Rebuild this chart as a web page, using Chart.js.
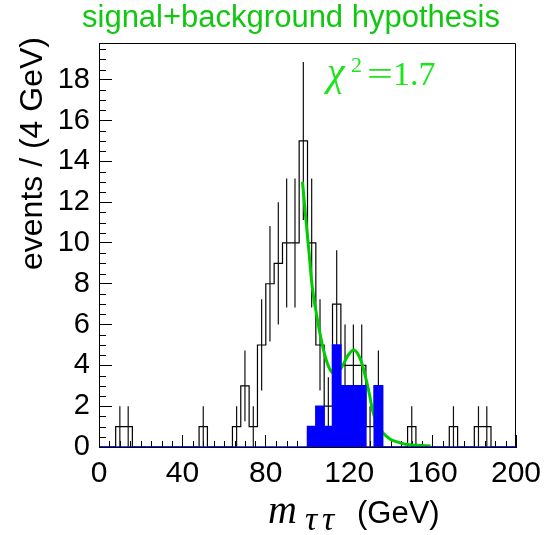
<!DOCTYPE html>
<html>
<head>
<meta charset="utf-8">
<script src="https://cdn.jsdelivr.net/npm/chart.js@4.4.1/dist/chart.umd.min.js"></script>
<style>
  html, body { margin: 0; padding: 0; background: #fff; }
  #wrap { width: 544px; height: 535px; position: relative; }
</style>
</head>
<body>
<div id="wrap"><canvas id="massChart"></canvas></div>
<script>
// histogram in 4 GeV bins, 0 - 200 GeV
const binWidth = 4;
const eventCounts = [
  0, 0, 1, 1, 0, 0, 0, 0, 0, 0,
  0, 0, 1, 0, 0, 0, 1, 3, 1, 5,
  8, 9, 10, 10, 15, 10, 5, 2, 7, 4,
  4, 4, 1, 3, 0, 0, 0, 1, 0, 0,
  0, 0, 1, 0, 0, 1, 1, 0, 0, 0
];
const signalCounts = [
  0, 0, 0, 0, 0, 0, 0, 0, 0, 0,
  0, 0, 0, 0, 0, 0, 0, 0, 0, 0,
  0, 0, 0, 0, 0, 1, 2, 1, 5, 3,
  3, 3, 0, 3, 0, 0, 0, 0, 0, 0,
  0, 0, 0, 0, 0, 0, 0, 0, 0, 0
];
// signal+background fit curve
const fitMass  = [97.6, 99, 100.5, 102.1, 104.5, 107.7, 110.9, 113.5, 116.5, 119.5, 122.1, 124.5, 126.1, 129.3, 131.4, 133.5, 136.5, 139.7, 142.9, 147, 152.5, 159];
const fitValue = [13.0, 11.4, 9.8, 8.0, 6.4, 4.75, 3.77, 3.6, 3.93, 4.5, 4.75, 4.5, 4.09, 2.78, 1.72, 1.1, 0.66, 0.38, 0.25, 0.13, 0.08, 0.05];

const xTickValues = [0, 40, 80, 120, 160, 200];
const yTickValues = [0, 2, 4, 6, 8, 10, 12, 14, 16, 18];

const xMinor = [];
for (let v = 5; v < 200; v += 5) if (v % 40 !== 0) xMinor.push(v);
const yMinor = [];
for (let v = 0.5; v < 19.8; v += 0.5) if (v % 2 !== 0) yMinor.push(v);

function stepPoints(counts) {
  const pts = counts.map((c, i) => ({ x: i * binWidth, y: c }));
  pts.push({ x: counts.length * binWidth, y: 0 });
  return pts;
}

function errorBarPoints(counts) {
  const pts = [];
  counts.forEach((c, i) => {
    if (c <= 0) return;
    const x = (i + 0.5) * binWidth;
    const err = Math.sqrt(c);
    pts.push({ x: x, y: c - err }, { x: x, y: c + err }, { x: x, y: null });
  });
  return pts;
}

const SANS = '"Liberation Sans", Arial, sans-serif';
const SERIF = '"Liberation Serif", "Times New Roman", serif';

const decorations = {
  id: 'decorations',
  beforeDatasetsDraw(chart) {
    const { ctx, chartArea: a, scales: { x, y } } = chart;
    ctx.save();
    ctx.strokeStyle = '#000';
    ctx.lineWidth = 1;
    ctx.beginPath();
    xMinor.forEach(v => {
      const px = Math.round(x.getPixelForValue(v)) + 0.5;
      ctx.moveTo(px, a.bottom);
      ctx.lineTo(px, a.bottom - 6);
    });
    yMinor.forEach(v => {
      const py = Math.round(y.getPixelForValue(v)) + 0.5;
      ctx.moveTo(a.left, py);
      ctx.lineTo(a.left + 7, py);
    });
    ctx.moveTo(a.left, a.top + 0.5);
    ctx.lineTo(a.right - 0.5, a.top + 0.5);
    ctx.lineTo(a.right - 0.5, a.bottom);
    ctx.stroke();
    ctx.restore();
  },
  afterDraw(chart) {
    const { ctx } = chart;
    ctx.save();
    ctx.textAlign = 'left';
    ctx.textBaseline = 'alphabetic';

    ctx.fillStyle = '#11c811';
    ctx.font = '31px ' + SANS;
    ctx.fillText('signal+background hypothesis', 82, 27);

    ctx.fillStyle = '#000';
    ctx.font = '32px ' + SANS;
    ctx.save();
    ctx.translate(42, 270);
    ctx.rotate(-Math.PI / 2);
    ctx.fillText('events / (4 GeV)', 0, 0);
    ctx.restore();

    ctx.font = 'italic 40px ' + SERIF;
    ctx.fillText('m', 268, 523);
    ctx.font = 'italic 34px ' + SERIF;
    ctx.fillText('\u03C4', 305, 530);
    ctx.fillText('\u03C4', 322, 530);
    ctx.font = '31px ' + SANS;
    ctx.fillText('(GeV)', 357, 523);

    ctx.fillStyle = '#1ee41e';
    ctx.font = 'italic 40px ' + SERIF;
    ctx.fillText('\u03C7', 327, 85);
    ctx.font = '22px ' + SERIF;
    ctx.fillText('2', 351, 72);
    ctx.font = '34px ' + SERIF;
    ctx.save();
    ctx.translate(367, 85);
    ctx.scale(1.35, 1);
    ctx.fillText('=', 0, 0);
    ctx.restore();
    ctx.fillText('1.7', 393, 85);
    ctx.restore();
  }
};

new Chart(document.getElementById('massChart'), {
  type: 'line',
  data: {
    datasets: [
      {
        label: 'signal',
        data: stepPoints(signalCounts),
        stepped: true,
        fill: 'origin',
        backgroundColor: '#0000ff',
        borderColor: '#0000ff',
        borderWidth: 1.5,
        pointRadius: 0,
        order: 0
      },
      {
        label: 'fit',
        data: fitMass.map((m, i) => ({ x: m, y: fitValue[i] })),
        borderColor: '#00cc00',
        borderWidth: 3,
        cubicInterpolationMode: 'monotone',
        pointRadius: 0,
        fill: false,
        order: 1
      },
      {
        label: 'errors',
        data: errorBarPoints(eventCounts),
        borderColor: '#111',
        borderWidth: 1.2,
        spanGaps: false,
        pointRadius: 0,
        fill: false,
        order: 2
      },
      {
        label: 'events',
        data: stepPoints(eventCounts),
        stepped: true,
        borderColor: '#000',
        borderWidth: 1.2,
        pointRadius: 0,
        fill: false,
        order: 3
      }
    ]
  },
  options: {
    responsive: true,
    maintainAspectRatio: false,
    animation: false,
    devicePixelRatio: 1,
    layout: { padding: { left: 0, right: 28, top: 43, bottom: 0 } },
    plugins: {
      legend: { display: false },
      tooltip: { enabled: false },
      title: { display: false }
    },
    scales: {
      x: {
        type: 'linear',
        min: 0,
        max: 200,
        afterFit: s => { s.height = 88; s.paddingLeft = 0; s.paddingRight = 0; },
        afterBuildTicks: s => { s.ticks = xTickValues.map(v => ({ value: v })); },
        grid: { drawOnChartArea: false, drawTicks: true, tickLength: -12, tickColor: '#000', color: '#000' },
        border: { display: true, color: '#000', width: 1 },
        ticks: { padding: 21, color: '#000', font: { family: SANS, size: 30 }, maxRotation: 0, autoSkip: false, callback: v => String(v) }
      },
      y: {
        type: 'linear',
        min: 0,
        max: 19.8,
        afterFit: s => { s.width = 99; s.paddingTop = 0; s.paddingBottom = 0; },
        afterBuildTicks: s => { s.ticks = yTickValues.map(v => ({ value: v })); },
        grid: { drawOnChartArea: false, drawTicks: true, tickLength: -13, tickColor: '#000', color: '#000' },
        border: { display: true, color: '#000', width: 1 },
        ticks: { padding: 22, color: '#000', font: { family: SANS, size: 29 }, autoSkip: false, callback: v => String(v) }
      }
    }
  },
  plugins: [decorations]
});
</script>
</body>
</html>
